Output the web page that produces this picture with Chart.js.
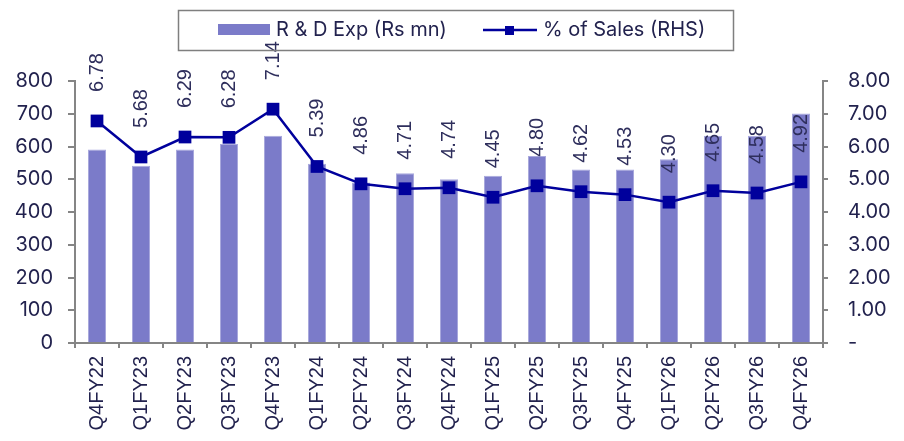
<!DOCTYPE html>
<html>
<head>
<meta charset="utf-8">
<script src="https://cdn.jsdelivr.net/npm/chart.js@4/dist/chart.umd.min.js"></script>
<style>
  html, body { margin: 0; padding: 0; background: #fff; }
  #wrap { width: 904px; height: 441px; }
</style>
</head>
<body>
<div id="wrap"><canvas id="rdChart" width="904" height="441"></canvas></div>
<script>
const quarters = ["Q4FY22", "Q1FY23", "Q2FY23", "Q3FY23", "Q4FY23", "Q1FY24", "Q2FY24", "Q3FY24", "Q4FY24",
    "Q1FY25", "Q2FY25", "Q3FY25", "Q4FY25", "Q1FY26", "Q2FY26", "Q3FY26", "Q4FY26"];
const rdExp = [591, 541, 591, 608, 633, 547, 490, 518, 500, 511, 571, 530, 530, 561, 633, 633, 701];
const pctSales = [6.78, 5.68, 6.29, 6.28, 7.14, 5.39, 4.86, 4.71, 4.74, 4.45, 4.80, 4.62, 4.53, 4.30, 4.65, 4.58, 4.92];
const leftTicks = [0, 100, 200, 300, 400, 500, 600, 700, 800];
const rightTicks = [0, 1, 2, 3, 4, 5, 6, 7, 8];

const BAR_COLOR = "#7b7bc9";
const LINE_COLOR = "#00009c";
const TEXT_COLOR = "#22224e";
const AXIS_COLOR = "#858585";
const ROUND_FONT = "Inter, Lato, sans-serif";
const PLAIN_FONT = "'Liberation Sans', Arial, sans-serif";

// rotated value labels above the line markers
const pointLabels = {
    id: "pointLabels",
    afterDatasetsDraw(chart) {
        const ctx = chart.ctx;
        const meta = chart.getDatasetMeta(1);
        ctx.save();
        ctx.font = "20px " + PLAIN_FONT;
        ctx.fillStyle = "#2e2e5c";
        ctx.textAlign = "left";
        ctx.textBaseline = "middle";
        meta.data.forEach((pt, i) => {
            ctx.save();
            ctx.translate(pt.x, pt.y - 29);
            ctx.rotate(-Math.PI / 2);
            ctx.fillText(pctSales[i].toFixed(2), 0, 0);
            ctx.restore();
        });
        ctx.restore();
    }
};

// boxed legend at the top
const boxLegend = {
    id: "boxLegend",
    afterDraw(chart) {
        const ctx = chart.ctx;
        const sets = chart.data.datasets;
        ctx.save();
        ctx.strokeStyle = "#7f7f7f";
        ctx.lineWidth = 1.5;
        ctx.strokeRect(178.5, 10.5, 555, 40);

        ctx.font = "20px " + ROUND_FONT;
        ctx.textBaseline = "middle";

        ctx.fillStyle = sets[0].backgroundColor;
        ctx.fillRect(218, 24, 52, 11);
        ctx.fillStyle = TEXT_COLOR;
        ctx.fillText(sets[0].label, 276, 30);

        ctx.strokeStyle = sets[1].borderColor;
        ctx.lineWidth = 2.5;
        ctx.beginPath();
        ctx.moveTo(483, 30);
        ctx.lineTo(537, 30);
        ctx.stroke();
        ctx.fillStyle = sets[1].borderColor;
        ctx.fillRect(505, 26, 9, 9);
        ctx.fillStyle = TEXT_COLOR;
        ctx.fillText(sets[1].label, 543, 30);
        ctx.restore();
    }
};

new Chart(document.getElementById("rdChart"), {
    data: {
        labels: quarters,
        datasets: [{
            type: "bar",
            label: "R & D Exp (Rs mn)",
            data: rdExp,
            yAxisID: "yLeft",
            backgroundColor: BAR_COLOR,
            borderColor: "#a9a9dd",
            borderWidth: { left: 1, right: 1, top: 1, bottom: 0 },
            barPercentage: 0.41,
            categoryPercentage: 1,
            order: 1
        }, {
            type: "line",
            label: "% of Sales (RHS)",
            data: pctSales,
            yAxisID: "yRight",
            borderColor: LINE_COLOR,
            backgroundColor: LINE_COLOR,
            borderWidth: 2.5,
            pointStyle: "rect",
            pointRadius: 9,
            pointBackgroundColor: LINE_COLOR,
            pointBorderWidth: 0,
            tension: 0,
            order: 0
        }]
    },
    options: {
        responsive: false,
        animation: false,
        layout: { padding: { top: 81, left: 0, right: 0, bottom: 0 } },
        plugins: {
            legend: { display: false },
            tooltip: { enabled: false }
        },
        scales: {
            x: {
                offset: true,
                grid: { offset: true, drawOnChartArea: false, color: AXIS_COLOR, lineWidth: 2, tickLength: 5 },
                border: { color: AXIS_COLOR, width: 2 },
                ticks: {
                    color: TEXT_COLOR,
                    font: { family: PLAIN_FONT, size: 20 },
                    minRotation: 90,
                    maxRotation: 90,
                    padding: 8,
                    autoSkip: false
                },
                afterFit(scale) { scale.height = 98; }
            },
            yLeft: {
                position: "left",
                min: 0,
                max: 800,
                afterBuildTicks(scale) { scale.ticks = leftTicks.map(v => ({ value: v })); },
                grid: { drawOnChartArea: false, color: AXIS_COLOR, lineWidth: 2, tickLength: 7 },
                border: { color: AXIS_COLOR, width: 2 },
                ticks: {
                    color: TEXT_COLOR,
                    font: { family: ROUND_FONT, size: 20 },
                    padding: 15
                },
                afterFit(scale) { scale.width = 75; }
            },
            yRight: {
                position: "right",
                min: 0,
                max: 8,
                afterBuildTicks(scale) { scale.ticks = rightTicks.map(v => ({ value: v })); },
                grid: { drawOnChartArea: false, color: AXIS_COLOR, lineWidth: 2, tickLength: 5 },
                border: { color: AXIS_COLOR, width: 2 },
                ticks: {
                    color: TEXT_COLOR,
                    font: { family: ROUND_FONT, size: 20 },
                    padding: 20,
                    callback: v => v === 0 ? "-" : v.toFixed(2)
                },
                afterFit(scale) { scale.width = 81; }
            }
        }
    },
    plugins: [pointLabels, boxLegend]
});
</script>
</body>
</html>
